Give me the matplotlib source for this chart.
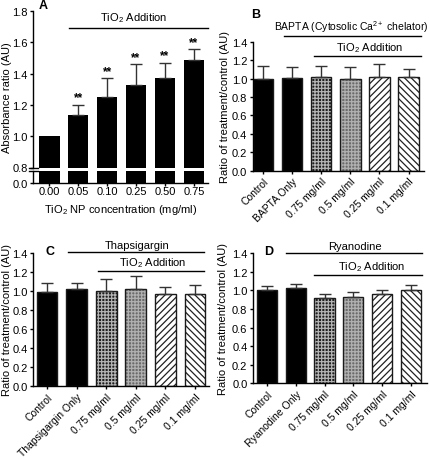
import matplotlib.pyplot as plt
import numpy as np

plt.rcParams['font.family'] = ['Liberation Sans', 'DejaVu Sans']
plt.rcParams['font.size'] = 8
plt.rcParams['mathtext.fontset'] = 'custom'
plt.rcParams['mathtext.rm'] = 'Liberation Sans'
plt.rcParams['mathtext.it'] = 'Liberation Sans:italic'
plt.rcParams['mathtext.bf'] = 'Liberation Sans:bold'
plt.rcParams['hatch.linewidth'] = 0.9

# panel A
conc_labels = ['0.00', '0.05', '0.10', '0.25', '0.50', '0.75']
abs_ratio = [1.0, 1.135, 1.25, 1.33, 1.37, 1.49]
abs_err = [0.0, 0.065, 0.12, 0.13, 0.10, 0.065]

# panels B, C, D
dose_labels = ['0.75 mg/ml', '0.5 mg/ml', '0.25 mg/ml', '0.1 mg/ml']
bapta_vals = [1.0, 1.01, 1.02, 1.0, 1.02, 1.015]
bapta_err = [0.14, 0.11, 0.12, 0.13, 0.135, 0.085]
thaps_vals = [0.99, 1.02, 1.0, 1.02, 0.965, 0.965]
thaps_err = [0.09, 0.065, 0.13, 0.135, 0.08, 0.095]
ryan_vals = [1.0, 1.025, 0.92, 0.93, 0.96, 1.01]
ryan_err = [0.045, 0.04, 0.04, 0.05, 0.045, 0.05]

# face, hatch, hatch colour
fills = [('black', '', 'black'),
         ('black', '', 'black'),
         ('#1e1e1e', '+++++', '#b4b4b4'),
         ('#6a6a6a', '+++++', '#b0b0b0'),
         ('white', '/////', '#202020'),
         ('white', '\\\\\\\\\\', '#202020')]

TIO2 = r'TiO$_\mathrm{2}$ Addition'
W, H = 430, 460
fig = plt.figure(figsize=(W / 100, H / 100), dpi=100)


def pos(l, r, t, b):
    return [l / W, 1 - b / H, (r - l) / W, (b - t) / H]


def style(ax, bottom=True):
    for s in ['top', 'right']:
        ax.spines[s].set_visible(False)
    ax.spines['left'].set_linewidth(1)
    ax.spines['bottom'].set_linewidth(1)
    ax.spines['bottom'].set_visible(bottom)
    ax.tick_params(direction='out', length=2.5, width=1, pad=1.5)


def bars(ax, vals, errs, width=0.7):
    x = np.arange(len(vals))
    for i, v in enumerate(vals):
        face, hatch, hc = fills[i]
        ax.bar(x[i], v, width, color=face, edgecolor=hc, hatch=hatch, linewidth=0)
        ax.bar(x[i], v, width, fill=False, edgecolor='#1a1a1a', linewidth=1)
    ax.errorbar(x, vals, yerr=[np.zeros(len(errs)), errs], fmt='none',
                ecolor='#333333', elinewidth=1, capsize=4, capthick=1)


def bracket(ax, x0, x1, y, text, tx, size=8):
    ax.plot([x0, x1], [y, y], color='black', lw=1, clip_on=False)
    ax.text(tx, y + 0.025, text, ha='center', va='bottom', fontsize=size)


# ---- A ----
axA = fig.add_axes(pos(33.3, 208, 12, 168.5))
axA2 = fig.add_axes(pos(33.3, 208, 171.5, 184))
xa = np.arange(len(abs_ratio))
for ax in [axA, axA2]:
    ax.bar(xa, abs_ratio, 0.71, color='black')
    ax.set_xlim(-0.554, 5.49)
axA.errorbar(xa[1:], abs_ratio[1:], yerr=[np.zeros(5), abs_err[1:]], fmt='none',
             ecolor='#333333', elinewidth=1, capsize=4, capthick=1)
for i in range(1, len(abs_ratio)):
    axA.text(xa[i], abs_ratio[i] + abs_err[i] + 0.008, '**', ha='center',
             va='bottom', fontsize=8.5, fontweight='bold')
axA.set_ylim(0.8, 1.8)
axA.set_yticks(np.arange(0.8, 1.81, 0.2))
axA.set_yticklabels(['0.8', '1.0', '1.2', '1.4', '1.6', '1.8'])
axA.set_xticks([])
style(axA, bottom=False)
axA2.set_ylim(0, 0.8)
axA2.set_yticks([0])
axA2.set_yticklabels(['0.0'])
axA2.set_xticks(xa)
axA2.set_xticklabels(conc_labels)
style(axA2)
axA2.tick_params(axis='x', length=2, pad=0.5)
axA2.set_xlabel(r'TiO$_\mathrm{2}$ NP concentration (mg/ml)', labelpad=4)
axA.set_ylabel('Absorbance ratio (AU)')
axA.yaxis.set_label_coords(-0.12, 0.45)
# break marks on the y axis
for yb, a in [(0.0, axA), (1.0, axA2)]:
    a.plot([-0.025, 0.025], [yb, yb], transform=a.transAxes, color='black',
           lw=1, clip_on=False)
bracket(axA, 0.68, 5.49, 1.691, TIO2, 2.9)
axA.text(0.03, 1.0, 'A', transform=axA.transAxes, fontsize=9,
         fontweight='bold', va='bottom')


def ratio_panel(rect, xlim, vals, errs, first_label, letter, lx, ly,
                top_text, top_tx, top_y, top_x0, tio_tx, tio_y, tio_x0, x1, ylab_x,
                top_size=8):
    ax = fig.add_axes(rect)
    bars(ax, vals, errs)
    ax.set_xlim(*xlim)
    ax.set_ylim(0, 1.4)
    ax.set_yticks(np.arange(0, 1.41, 0.2))
    ax.set_yticklabels(['%.1f' % v for v in np.arange(0, 1.41, 0.2)])
    ax.set_xticks(np.arange(6))
    ax.set_xticklabels(['Control', first_label] + dose_labels, rotation=45,
                       ha='right', rotation_mode='anchor', fontsize=7.5)
    style(ax)
    ax.set_ylabel('Ratio of treatment/control (AU)')
    ax.yaxis.set_label_coords(ylab_x, 0.5)
    bracket(ax, top_x0, x1, top_y, top_text, top_tx, top_size)
    bracket(ax, tio_x0, x1, tio_y, TIO2, tio_tx)
    ax.text(lx, ly, letter, fontsize=9, fontweight='bold', va='center', ha='left')
    return ax


ratio_panel(pos(252.7, 424, 42.7, 171.5), (-0.354, 5.53), bapta_vals, bapta_err,
            'BAPTA Only', 'B', -0.42, 1.70,
            r'BAPTA (Cytosolic Ca$^\mathrm{2+}$ chelator)', 3.02, 1.463, 0.73,
            3.65, 1.245, 1.74, 5.42, -0.13, top_size=7.5)
ratio_panel(pos(33.3, 209.3, 254, 387), (-0.463, 5.48), thaps_vals, thaps_err,
            'Thapsigargin Only', 'C', -0.05, 1.42,
            'Thapsigargin', 3.04, 1.41, 0.71,
            3.55, 1.21, 1.72, 5.3, -0.12)
ratio_panel(pos(253, 426.7, 254.3, 384.3), (-0.486, 5.55), ryan_vals, ryan_err,
            'Ryanodine Only', 'D', -0.1, 1.425,
            'Ryanodine', 3.06, 1.403, 0.66,
            3.65, 1.166, 1.63, 5.38, -0.144)

fig.savefig('out.png', dpi=100)
